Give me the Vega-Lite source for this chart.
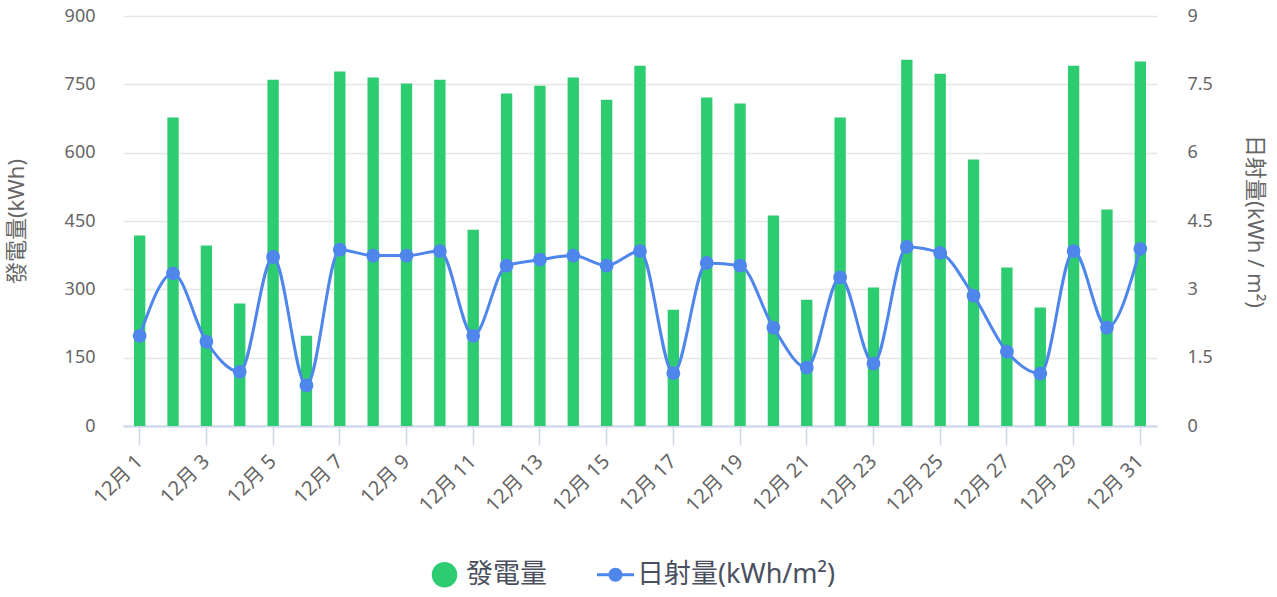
{
  "$schema": "https://vega.github.io/schema/vega-lite/v6.json",
  "width": 1034,
  "height": 410,
  "autosize": "none",
  "padding": {"left": 123, "top": 16, "right": 120, "bottom": 171},
  "background": "white",
  "config": {
    "view": {"stroke": null},
    "font": "Noto Sans, Noto Sans CJK TC",
    "axis": {"labelFont": "Noto Sans, Noto Sans CJK TC", "titleFont": "Noto Sans, Noto Sans CJK TC"},
    "legend": {"labelFont": "Noto Sans, Noto Sans CJK TC"}
  },
  "data": {
    "values": [
      {"day": "12月 1", "gen": 418, "irr": 1.98},
      {"day": "12月 2", "gen": 677, "irr": 3.35},
      {"day": "12月 3", "gen": 396, "irr": 1.85},
      {"day": "12月 4", "gen": 269, "irr": 1.19},
      {"day": "12月 5", "gen": 760, "irr": 3.71},
      {"day": "12月 6", "gen": 198, "irr": 0.89},
      {"day": "12月 7", "gen": 778, "irr": 3.87},
      {"day": "12月 8", "gen": 765, "irr": 3.74},
      {"day": "12月 9", "gen": 752, "irr": 3.74},
      {"day": "12月 10", "gen": 760, "irr": 3.84},
      {"day": "12月 11", "gen": 431, "irr": 1.98},
      {"day": "12月 12", "gen": 730, "irr": 3.52},
      {"day": "12月 13", "gen": 747, "irr": 3.65},
      {"day": "12月 14", "gen": 765, "irr": 3.74},
      {"day": "12月 15", "gen": 716, "irr": 3.52},
      {"day": "12月 16", "gen": 791, "irr": 3.84},
      {"day": "12月 17", "gen": 255, "irr": 1.16},
      {"day": "12月 18", "gen": 721, "irr": 3.58},
      {"day": "12月 19", "gen": 708, "irr": 3.52},
      {"day": "12月 20", "gen": 462, "irr": 2.16},
      {"day": "12月 21", "gen": 277, "irr": 1.28},
      {"day": "12月 22", "gen": 677, "irr": 3.26},
      {"day": "12月 23", "gen": 304, "irr": 1.37},
      {"day": "12月 24", "gen": 804, "irr": 3.93},
      {"day": "12月 25", "gen": 773, "irr": 3.8},
      {"day": "12月 26", "gen": 585, "irr": 2.86},
      {"day": "12月 27", "gen": 348, "irr": 1.63},
      {"day": "12月 28", "gen": 260, "irr": 1.15},
      {"day": "12月 29", "gen": 791, "irr": 3.84},
      {"day": "12月 30", "gen": 475, "irr": 2.16},
      {"day": "12月 31", "gen": 800, "irr": 3.89}
    ]
  },
  "encoding": {
    "x": {
      "field": "day",
      "type": "ordinal",
      "sort": null,
      "scale": {"paddingInner": 0.66, "paddingOuter": 0.33},
      "axis": {
        "title": null,
        "values": ["12月 1","12月 3","12月 5","12月 7","12月 9","12月 11","12月 13","12月 15","12月 17","12月 19","12月 21","12月 23","12月 25","12月 27","12月 29","12月 31"],
        "labelAngle": -45,
        "labelAlign": "right",
        "labelBaseline": "middle",
        "labelPadding": 13,
        "labelFontSize": 20,
        "labelColor": "#666666",
        "domainColor": "#ccd6eb",
        "domainWidth": 2,
        "tickColor": "#ccd6eb",
        "tickWidth": 1.5,
        "tickSize": 19,
        "grid": false
      }
    }
  },
  "layer": [
    {
      "mark": {"type": "bar", "color": "#2ecc71"},
      "encoding": {
        "y": {
          "field": "gen",
          "type": "quantitative",
          "scale": {"domain": [0, 900], "nice": false},
          "axis": {
            "title": "發電量(kWh)",
            "titleFontSize": 22,
            "titleFontWeight": "normal",
            "titleColor": "#666666",
            "titlePadding": 36,
            "values": [0, 150, 300, 450, 600, 750, 900],
            "format": ".4~g",
            "labelFontSize": 18,
            "labelColor": "#666666",
            "labelAlign": "right",
            "labelPadding": 28,
            "ticks": false,
            "domain": false,
            "grid": true,
            "gridColor": "#e6e6e6",
            "gridWidth": 1.5
          }
        },
        "color": {
          "datum": "發電量",
          "scale": {"domain": ["發電量", "日射量(kWh/m²)"], "range": ["#2ecc71", "#4f86ec"]},
          "legend": {
            "title": null,
            "orient": "none",
            "legendX": 308,
            "legendY": 545,
            "direction": "horizontal",
            "labelFontSize": 27,
            "labelColor": "#4a5060",
            "labelOffset": 8,
            "labelLimit": 0,
            "columnPadding": 50,
            "symbolSize": 650,
            "symbolType": "circle",
            "symbolStrokeWidth": 0,
            "encode": {
              "symbols": {
                "update": {
                  "shape": {"signal": "datum.value === '發電量' ? 'circle' : 'M-1.45,-0.12L1.45,-0.12L1.45,0.12L-1.45,0.12Z M-0.55,0A0.55,0.55 0 1,1 0.55,0A0.55,0.55 0 1,1 -0.55,0Z'"},
                  "fill": {"signal": "datum.value === '發電量' ? '#2ecc71' : '#4f86ec'"},
                  "strokeWidth": {"value": 0},
                  "opacity": {"value": 1},
                  "fillOpacity": {"value": 1}
                }
              }
            }
          }
        }
      }
    },
    {
      "encoding": {
        "y": {
          "field": "irr",
          "type": "quantitative",
          "scale": {"domain": [0, 9], "nice": false},
          "axis": {
            "orient": "right",
            "title": "日射量(kWh / m²)",
            "titleFontSize": 22,
            "titleFontWeight": "normal",
            "titleColor": "#666666",
            "titlePadding": 30,
            "values": [0, 1.5, 3, 4.5, 6, 7.5, 9],
            "format": ".4~g",
            "labelFontSize": 18,
            "labelColor": "#666666",
            "labelAlign": "left",
            "labelPadding": 30,
            "ticks": false,
            "domain": false,
            "grid": false
          }
        },
        "color": {"datum": "日射量(kWh/m²)"}
      },
      "layer": [
        {
          "mark": {"type": "line", "interpolate": "monotone", "strokeWidth": 3}
        },
        {
          "mark": {"type": "point", "filled": true, "opacity": 1, "size": 190}
        }
      ]
    }
  ],
  "resolve": {"scale": {"y": "independent"}}
}
